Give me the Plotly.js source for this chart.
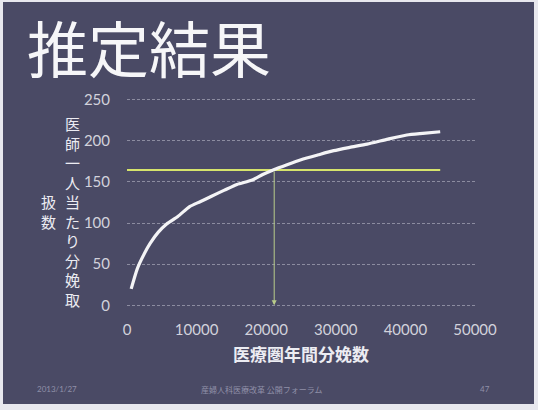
<!DOCTYPE html>
<html>
<head>
<meta charset="utf-8">
<script src="https://cdn.plot.ly/plotly-3.0.1.min.js"></script>
<style>
html,body{margin:0;padding:0;background:#e8e8ee;width:538px;height:410px;overflow:hidden;}
#chart{position:absolute;left:3px;top:2px;width:531px;height:402px;}
</style>
</head>
<body>
<div id="chart"></div>
<script>
// Data
const birthsX = [600, 1500, 2500, 3300, 4500, 5700, 7300, 9000, 10500, 12000, 14000, 15800, 17900, 19500, 21000, 23000, 25000, 27500, 29700, 32000, 34500, 37500, 40200, 42500, 45000];
const perDoctorY = [20, 45, 63, 75, 89, 99, 108, 120, 126, 132, 140, 147, 152, 159, 164.6, 171, 177, 183, 188, 192, 196, 202, 207, 209, 211];
const thresholdY = 164.6;
const thresholdXRange = [0, 45000];
const crossX = 21150;
const yTicks = [0, 50, 100, 150, 200, 250];
const xTicks = [0, 10000, 20000, 30000, 40000, 50000];
const titleText = "推定結果";
const xTitle = "医療圏年間分娩数";
const yTitleCol1 = "医師一人当たり分娩取";
const yTitleCol2 = "扱数";
const footerDate = "2013/1/27";
const footerCenter = "産婦人科医療改革 公開フォーラム";
const footerPage = "47";

const cjk = '"Noto Sans CJK JP", "Noto Sans", sans-serif';
const tickFont = {family: 'Lato, "Open Sans", sans-serif', size: 15, color: '#d2d2dc'};

const traces = [
  {x: thresholdXRange, y: [thresholdY, thresholdY], mode: 'lines',
   line: {color: '#d6e46c', width: 2}, hoverinfo: 'skip', showlegend: false},
  {x: birthsX, y: perDoctorY, mode: 'lines',
   line: {color: '#f4f4f6', width: 3.2, shape: 'spline', smoothing: 0.6}, showlegend: false}
];

const W = 531, H = 402;
const layout = {
  width: W, height: H,
  margin: {l: 124, r: 59, t: 96, b: 97},
  paper_bgcolor: '#4a4a65',
  plot_bgcolor: 'rgba(0,0,0,0)',
  showlegend: false,
  xaxis: {range: [0, 50000], tickvals: xTicks, ticktext: xTicks.map(String),
          showgrid: false, zeroline: false, showline: false, ticks: '',
          tickfont: tickFont, ticklabelstandoff: 12, fixedrange: true},
  yaxis: {range: [-2, 252], tickvals: yTicks, ticktext: yTicks.map(String),
          showgrid: true, gridcolor: 'rgba(205,205,220,0.5)', gridwidth: 1, griddash: '3px,2px',
          zeroline: false, showline: false, ticks: '',
          tickfont: tickFont, ticklabelstandoff: 16, fixedrange: true},
  annotations: [
    {x: crossX, y: 0, ax: crossX, ay: thresholdY, xref: 'x', yref: 'y', axref: 'x', ayref: 'y',
     text: '', showarrow: true, arrowhead: 2, arrowsize: 1, arrowwidth: 1, arrowcolor: '#b9cc8a'},
    {text: titleText, xref: 'paper', yref: 'paper', x: 0, y: 1, xanchor: 'left', yanchor: 'middle',
     xshift: -102, yshift: 51.5, showarrow: false,
     font: {family: cjk, size: 61, color: '#f6f6f8'}},
    {text: xTitle, xref: 'paper', yref: 'paper', x: 0.5, y: 0, xanchor: 'center', yanchor: 'middle',
     yshift: -46, showarrow: false,
     font: {family: cjk, size: 17, color: '#ececf2', weight: 'bold'}},
    {text: yTitleCol1.split('').join('<br>'), xref: 'paper', yref: 'paper', x: 0, y: 0.5,
     xanchor: 'center', yanchor: 'middle', xshift: -55, yshift: -9, showarrow: false,
     font: {family: cjk, size: 15, color: '#ececf2'}},
    {text: yTitleCol2.split('').join('<br>'), xref: 'paper', yref: 'paper', x: 0, y: 0.5,
     xanchor: 'center', yanchor: 'middle', xshift: -79, yshift: -9, showarrow: false,
     font: {family: cjk, size: 15, color: '#ececf2'}},
    {text: footerDate, xref: 'paper', yref: 'paper', x: 0, y: 0, xanchor: 'left', yanchor: 'middle',
     xshift: -92, yshift: -82, showarrow: false,
     font: {family: 'Lato, sans-serif', size: 8, color: '#9090a8'}},
    {text: footerCenter, xref: 'paper', yref: 'paper', x: 0, y: 0, xanchor: 'center', yanchor: 'middle',
     xshift: 135, yshift: -82, showarrow: false,
     font: {family: cjk, size: 8, color: '#9090a8'}},
    {text: footerPage, xref: 'paper', yref: 'paper', x: 1, y: 0, xanchor: 'center', yanchor: 'middle',
     xshift: 10, yshift: -82, showarrow: false,
     font: {family: 'Lato, sans-serif', size: 8, color: '#9090a8'}}
  ]
};

Plotly.newPlot('chart', traces, layout, {displayModeBar: false, staticPlot: true});
</script>
</body>
</html>
